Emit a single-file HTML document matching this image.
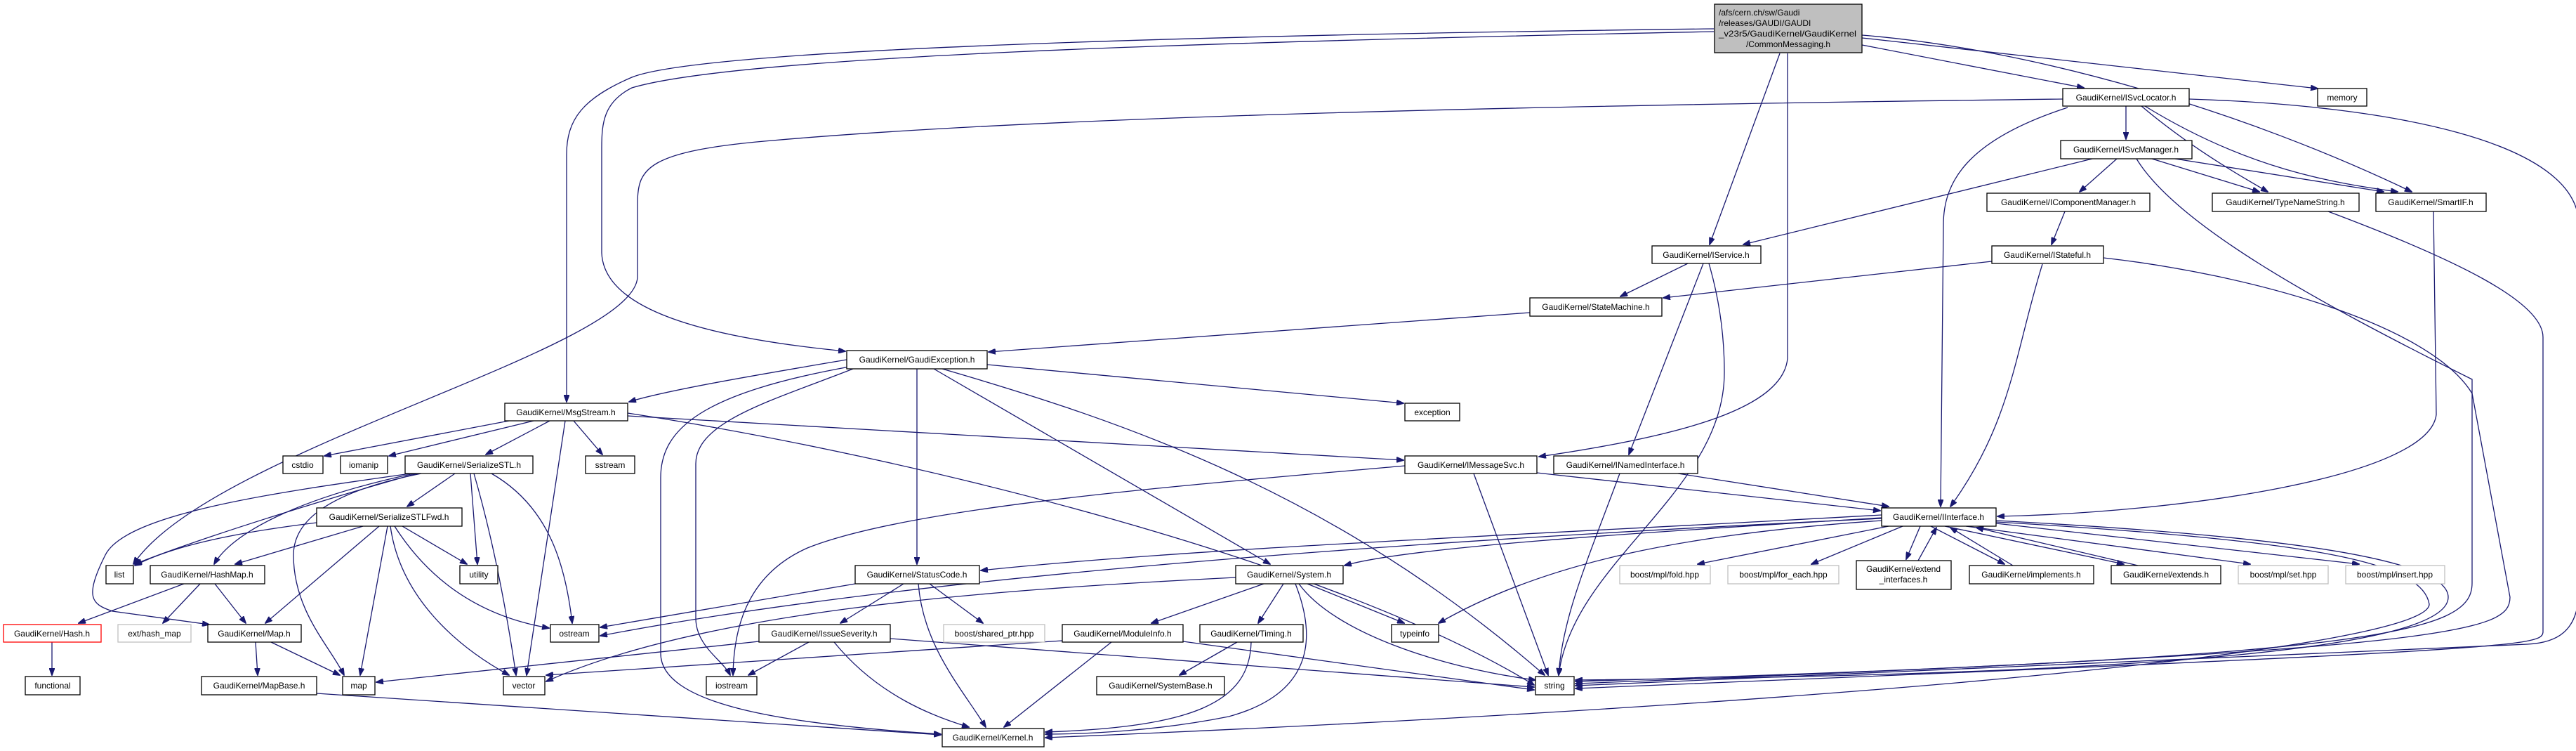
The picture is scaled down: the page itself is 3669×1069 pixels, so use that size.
<!DOCTYPE html>
<html><head><meta charset="utf-8"><style>
html,body{margin:0;padding:0;background:#fff;}
svg{display:block;}
text{font-family:"Liberation Sans",sans-serif;font-size:12px;fill:#000;}
.e{fill:none;stroke:#191970;stroke-width:1.3;}
.n{fill:#fff;stroke:#000;stroke-width:1.3;}
.g{fill:#fff;stroke:#bfbfbf;stroke-width:1.3;}
.r{fill:#fff;stroke:#ff0000;stroke-width:1.3;}
</style></head><body>
<svg width="3669" height="1069" viewBox="0 0 3669 1069" xmlns="http://www.w3.org/2000/svg">
<defs><marker id="a" markerWidth="11" markerHeight="8" refX="10" refY="4" orient="auto" markerUnits="userSpaceOnUse"><path d="M0,0 L11,4 L0,8 z" fill="#191970" stroke="#191970"/></marker></defs>
<g marker-end="url(#a)">
<!-- root edges -->
<path class="e" d="M2441,41 C1700,50 1000,70 900,110 C830,140 807,170 807,220 L807,572"/>
<path class="e" d="M2441,45 C1700,60 1050,80 900,125 C860,145 857,175 857,210 L857,360 C860,440 1000,480 1204,500"/>
<path class="e" d="M2535,76 L2435,348"/>
<path class="e" d="M2546,76 L2546,510 C2540,580 2400,620 2192,650"/>
<path class="e" d="M2652,64 L2968,125"/>
<path class="e" d="M2652,50 C2900,70 3200,160 3435,273"/>
<path class="e" d="M2652,54 C2900,80 3150,110 3301,126"/>
<!-- ISvcLocator -->
<path class="e" d="M3028,151 L3028,198"/>
<path class="e" d="M3050,151 C3120,210 3190,250 3230,273"/>
<path class="e" d="M3055,151 C3200,240 3320,260 3415,273"/>
<path class="e" d="M2945,153 C2800,200 2768,260 2768,320 L2764,721"/>
<path class="e" d="M3118,141 C3400,150 3673,200 3673,320 L3673,840 C3673,900 3640,915 3600,917 L2244,976"/>
<path class="e" d="M2938,141 C2200,150 1500,165 1100,200 C920,215 908,240 908,290 L908,395 C900,500 300,640 190,803"/>
<!-- ISvcManager -->
<path class="e" d="M3015,226 L2962,273"/>
<path class="e" d="M3065,226 L3218,273"/>
<path class="e" d="M3098,226 L3395,273"/>
<path class="e" d="M2980,226 L2483,348"/>
<path class="e" d="M3043,226 C3100,320 3300,430 3521,540 L3521,830 C3521,900 3400,935 2244,970"/>
<!-- IComponentManager -->
<path class="e" d="M2941,301 L2922,348"/>
<!-- TypeNameString -->
<path class="e" d="M3316,301 C3500,370 3622,430 3622,480 L3622,900 C3620,920 3590,925 2244,980"/>
<!-- SmartIF -->
<path class="e" d="M3466,301 L3470,590 C3460,680 3100,730 2845,735"/>
<!-- IService -->
<path class="e" d="M2404,375 L2308,422"/>
<path class="e" d="M2426,375 L2320,647"/>
<path class="e" d="M2434,375 C2450,430 2456,480 2456,530 C2456,700 2240,800 2220,961"/>
<!-- IStateful -->
<path class="e" d="M2837,372 L2369,424"/>
<path class="e" d="M2909,376 C2870,500 2866,600 2778,721"/>
<path class="e" d="M2996,367 C3200,390 3460,460 3521,560 L3575,850 C3575,900 3500,925 2244,973"/>
<!-- StateMachine -->
<path class="e" d="M2179,445 L1408,501"/>
<!-- GaudiException -->
<path class="e" d="M1206,512 C1100,530 950,555 896,572"/>
<path class="e" d="M1406,519 L1999,574"/>
<path class="e" d="M1306,525 L1306,803"/>
<path class="e" d="M1330,525 L1809,803"/>
<path class="e" d="M1342,525 C1600,600 1900,700 2200,961"/>
<path class="e" d="M1215,525 C1100,570 991,600 991,660 L991,880 C991,920 1030,940 1040,961"/>
<path class="e" d="M1210,522 C1000,560 941,610 941,680 L941,930 C941,1000 1100,1030 1340,1045"/>
<!-- MsgStream -->
<path class="e" d="M725,599 L462,649"/>
<path class="e" d="M760,599 L554,649"/>
<path class="e" d="M783,599 L692,647"/>
<path class="e" d="M817,599 L858,647"/>
<path class="e" d="M805,599 L750,961"/>
<path class="e" d="M894,592 L1999,655"/>
<path class="e" d="M894,588 C1300,650 1900,800 2185,975"/>
<!-- SerializeSTL -->
<path class="e" d="M648,674 L580,721"/>
<path class="e" d="M594,674 C500,700 300,760 192,803"/>
<path class="e" d="M590,674 C420,710 330,760 305,803"/>
<path class="e" d="M585,674 C400,700 180,730 150,790 C120,850 130,860 160,870 L298,889"/>
<path class="e" d="M600,674 C470,700 418,740 418,790 C418,870 470,920 490,961"/>
<path class="e" d="M670,674 L680,803"/>
<path class="e" d="M675,674 C700,760 720,860 735,961"/>
<path class="e" d="M700,674 C780,720 805,800 815,887"/>
<!-- SerializeSTLFwd -->
<path class="e" d="M451,744 C320,760 240,780 192,805"/>
<path class="e" d="M517,749 L335,803"/>
<path class="e" d="M540,749 L378,887"/>
<path class="e" d="M552,749 L513,961"/>
<path class="e" d="M556,749 C570,850 650,920 725,961"/>
<path class="e" d="M562,749 C620,840 700,880 782,894"/>
<path class="e" d="M573,749 L665,803"/>
<!-- HashMap -->
<path class="e" d="M262,831 L112,887"/>
<path class="e" d="M285,831 L232,887"/>
<path class="e" d="M306,831 L350,887"/>
<path class="e" d="M74,914 L74,961"/>
<path class="e" d="M364,914 L367,961"/>
<path class="e" d="M386,914 L484,961"/>
<path class="e" d="M451,987 L1340,1046"/>
<!-- StatusCode -->
<path class="e" d="M1287,831 L1197,887"/>
<path class="e" d="M1324,831 L1400,887"/>
<path class="e" d="M1308,831 C1315,920 1370,980 1404,1035"/>
<path class="e" d="M1218,831 L855,893"/>
<!-- IssueSeverity -->
<path class="e" d="M1152,914 L1066,961"/>
<path class="e" d="M1188,914 C1250,990 1330,1020 1380,1035"/>
<path class="e" d="M1081,913 L536,971"/>
<path class="e" d="M1268,909 L2185,978"/>
<!-- System -->
<path class="e" d="M1800,831 L1640,887"/>
<path class="e" d="M1828,831 L1792,887"/>
<path class="e" d="M1862,831 L2000,887"/>
<path class="e" d="M1850,831 C1900,900 2050,950 2187,968"/>
<path class="e" d="M1845,831 C1880,920 1860,990 1750,1020 C1650,1040 1550,1045 1489,1045"/>
<path class="e" d="M1760,822 C1400,840 1000,870 778,970"/>
<!-- ModuleInfo -->
<path class="e" d="M1583,914 L1430,1035"/>
<path class="e" d="M1685,913 L2185,982"/>
<path class="e" d="M1513,912 L778,961"/>
<!-- Timing -->
<path class="e" d="M1762,914 L1680,961"/>
<path class="e" d="M1782,914 C1780,1000 1700,1035 1489,1042"/>
<!-- IMessageSvc -->
<path class="e" d="M2189,673 L2678,727"/>
<path class="e" d="M2099,674 L2205,961"/>
<path class="e" d="M2001,663 C1700,690 1300,720 1150,780 C1060,820 1045,900 1044,961"/>
<!-- INamedInterface -->
<path class="e" d="M2390,674 L2690,721"/>
<path class="e" d="M2307,674 C2260,800 2225,880 2220,961"/>
<!-- IInterface -->
<path class="e" d="M2680,733 C2200,760 1700,780 1397,812"/>
<path class="e" d="M2680,737 C2300,760 2000,780 1915,805"/>
<path class="e" d="M2680,738 C2000,770 1300,820 855,905"/>
<path class="e" d="M2680,741 C2400,760 2200,800 2049,887"/>
<path class="e" d="M2690,749 L2418,803"/>
<path class="e" d="M2710,749 L2580,803"/>
<path class="e" d="M2735,749 L2715,796"/>
<path class="e" d="M2750,749 L2855,803"/>
<path class="e" d="M2770,749 L3025,803"/>
<path class="e" d="M2800,749 L3205,803"/>
<path class="e" d="M2843,745 L3360,803"/>
<path class="e" d="M2843,741 C3200,760 3487,790 3487,850 C3487,920 3100,960 2244,968"/>
<path class="e" d="M2843,743 C3300,770 3450,800 3460,860 C3460,920 2700,1000 1489,1050"/>
<path class="e" d="M2732,798 L2758,751"/>
<path class="e" d="M2867,805 L2778,751"/>
<path class="e" d="M3045,805 L2815,751"/>
</g>
<!-- nodes -->
<rect class="n" x="2442" y="6" width="210" height="69" fill="#bfbfbf" style="fill:#bfbfbf"/>
<text x="2448" y="22">/afs/cern.ch/sw/Gaudi</text>
<text x="2448" y="37">/releases/GAUDI/GAUDI</text>
<text x="2448" y="52" textLength="196" lengthAdjust="spacingAndGlyphs">_v23r5/GaudiKernel/GaudiKernel</text>
<text x="2547" y="67" text-anchor="middle">/CommonMessaging.h</text>
<g text-anchor="middle">
<rect class="n" x="2938" y="126" width="180" height="25"/><text x="3028" y="143">GaudiKernel/ISvcLocator.h</text>
<rect class="n" x="3301" y="126" width="70" height="25"/><text x="3336" y="143">memory</text>
<rect class="n" x="2935" y="200" width="187" height="26"/><text x="3028" y="217">GaudiKernel/ISvcManager.h</text>
<rect class="n" x="2830" y="275" width="232" height="26"/><text x="2946" y="292">GaudiKernel/IComponentManager.h</text>
<rect class="n" x="3151" y="275" width="209" height="26"/><text x="3255" y="292">GaudiKernel/TypeNameString.h</text>
<rect class="n" x="3384" y="275" width="157" height="26"/><text x="3462" y="292">GaudiKernel/SmartIF.h</text>
<rect class="n" x="2353" y="350" width="155" height="25"/><text x="2430" y="367">GaudiKernel/IService.h</text>
<rect class="n" x="2837" y="350" width="159" height="25"/><text x="2916" y="367">GaudiKernel/IStateful.h</text>
<rect class="n" x="2179" y="424" width="188" height="26"/><text x="2273" y="441">GaudiKernel/StateMachine.h</text>
<rect class="n" x="1206" y="499" width="200" height="26"/><text x="1306" y="516">GaudiKernel/GaudiException.h</text>
<rect class="n" x="719" y="574" width="175" height="25"/><text x="806" y="591">GaudiKernel/MsgStream.h</text>
<rect class="n" x="2001" y="574" width="78" height="25"/><text x="2040" y="591">exception</text>
<rect class="n" x="403" y="649" width="57" height="25"/><text x="431" y="666">cstdio</text>
<rect class="n" x="485" y="649" width="67" height="25"/><text x="518" y="666">iomanip</text>
<rect class="n" x="577" y="649" width="182" height="25"/><text x="668" y="666">GaudiKernel/SerializeSTL.h</text>
<rect class="n" x="834" y="649" width="70" height="25"/><text x="869" y="666">sstream</text>
<rect class="n" x="2001" y="649" width="188" height="25"/><text x="2095" y="666">GaudiKernel/IMessageSvc.h</text>
<rect class="n" x="2213" y="649" width="205" height="25"/><text x="2315" y="666">GaudiKernel/INamedInterface.h</text>
<rect class="n" x="451" y="723" width="207" height="26"/><text x="554" y="740">GaudiKernel/SerializeSTLFwd.h</text>
<rect class="n" x="2680" y="723" width="163" height="26"/><text x="2761" y="740">GaudiKernel/IInterface.h</text>
<rect class="n" x="151" y="805" width="39" height="26"/><text x="170" y="822">list</text>
<rect class="n" x="214" y="805" width="163" height="26"/><text x="295" y="822">GaudiKernel/HashMap.h</text>
<rect class="n" x="655" y="805" width="54" height="26"/><text x="682" y="822">utility</text>
<rect class="n" x="1218" y="805" width="177" height="26"/><text x="1306" y="822">GaudiKernel/StatusCode.h</text>
<rect class="n" x="1760" y="805" width="153" height="26"/><text x="1836" y="822">GaudiKernel/System.h</text>
<rect class="g" x="2307" y="805" width="129" height="26"/><text x="2371" y="822">boost/mpl/fold.hpp</text>
<rect class="g" x="2461" y="805" width="158" height="26"/><text x="2540" y="822">boost/mpl/for_each.hpp</text>
<rect class="n" x="2644" y="798" width="135" height="41"/><text x="2711" y="814">GaudiKernel/extend</text><text x="2711" y="829">_interfaces.h</text>
<rect class="n" x="2805" y="805" width="177" height="26"/><text x="2893" y="822">GaudiKernel/implements.h</text>
<rect class="n" x="3007" y="805" width="156" height="26"/><text x="3085" y="822">GaudiKernel/extends.h</text>
<rect class="g" x="3188" y="805" width="128" height="26"/><text x="3252" y="822">boost/mpl/set.hpp</text>
<rect class="g" x="3341" y="805" width="141" height="26"/><text x="3411" y="822">boost/mpl/insert.hpp</text>
<rect class="r" x="5" y="889" width="139" height="25"/><text x="74" y="906">GaudiKernel/Hash.h</text>
<rect class="g" x="168" y="889" width="104" height="25"/><text x="220" y="906">ext/hash_map</text>
<rect class="n" x="296" y="889" width="133" height="25"/><text x="362" y="906">GaudiKernel/Map.h</text>
<rect class="n" x="784" y="889" width="69" height="25"/><text x="818" y="906">ostream</text>
<rect class="n" x="1081" y="889" width="187" height="25"/><text x="1174" y="906">GaudiKernel/IssueSeverity.h</text>
<rect class="g" x="1344" y="889" width="144" height="25"/><text x="1416" y="906">boost/shared_ptr.hpp</text>
<rect class="n" x="1513" y="889" width="172" height="25"/><text x="1599" y="906">GaudiKernel/ModuleInfo.h</text>
<rect class="n" x="1709" y="889" width="147" height="25"/><text x="1782" y="906">GaudiKernel/Timing.h</text>
<rect class="n" x="1982" y="889" width="67" height="25"/><text x="2015" y="906">typeinfo</text>
<rect class="n" x="36" y="963" width="78" height="26"/><text x="75" y="980">functional</text>
<rect class="n" x="287" y="963" width="164" height="26"/><text x="369" y="980">GaudiKernel/MapBase.h</text>
<rect class="n" x="488" y="963" width="46" height="26"/><text x="511" y="980">map</text>
<rect class="n" x="717" y="963" width="59" height="26"/><text x="746" y="980">vector</text>
<rect class="n" x="1006" y="963" width="72" height="26"/><text x="1042" y="980">iostream</text>
<rect class="n" x="1562" y="963" width="182" height="26"/><text x="1653" y="980">GaudiKernel/SystemBase.h</text>
<rect class="n" x="2187" y="963" width="55" height="26"/><text x="2214" y="980">string</text>
<rect class="n" x="1342" y="1037" width="145" height="26"/><text x="1414" y="1054">GaudiKernel/Kernel.h</text>
</g>
</svg>
</body></html>
